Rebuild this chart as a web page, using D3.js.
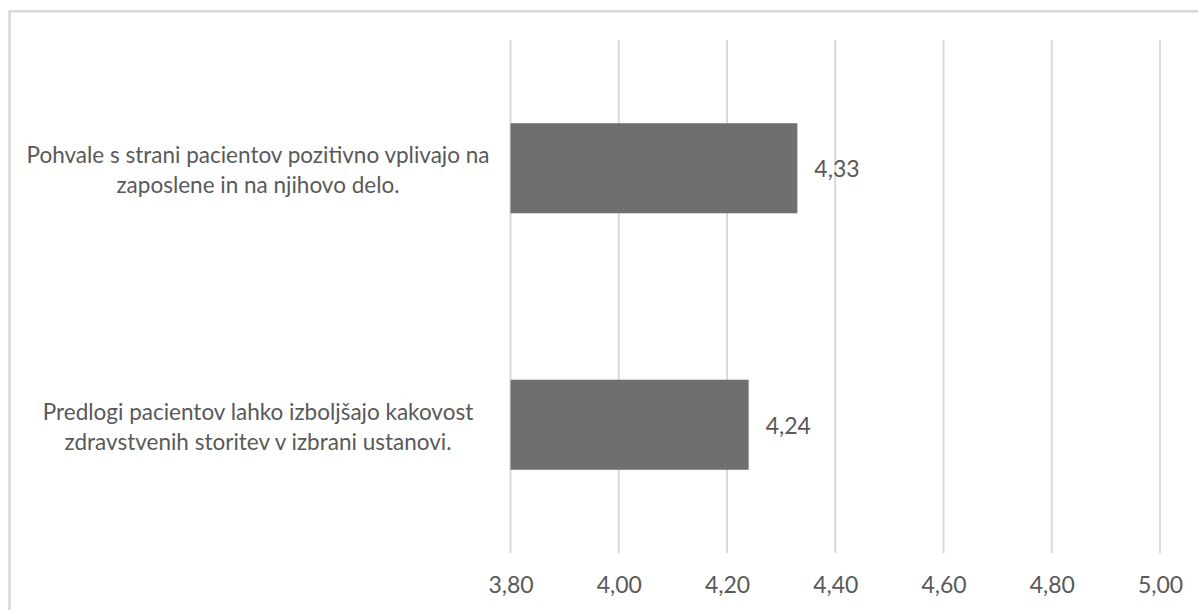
<!DOCTYPE html>
<html>
<head>
<meta charset="utf-8">
<script src="https://cdn.jsdelivr.net/npm/d3@7"></script>
<style>
  html, body { margin: 0; padding: 0; background: #fff; }
  svg { display: block; }
  text { font-family: Lato, "Open Sans", sans-serif; fill: #595959; }
</style>
</head>
<body>
<svg id="chart" width="1198" height="610"></svg>
<script>
// Category labels (each item is the list of lines drawn for that bar)
const categories = [
  ["Pohvale s strani pacientov pozitivno vplivajo na", "zaposlene in na njihovo delo."],
  ["Predlogi pacientov lahko izboljšajo kakovost", "zdravstvenih storitev v izbrani ustanovi."]
];
const values = [4.33, 4.24];
const tickValues = [3.8, 4.0, 4.2, 4.4, 4.6, 4.8, 5.0];

const fmt = v => d3.format(".2f")(v).replace(".", ",");

const svg = d3.select("#chart");

// Outer chart frame
svg.append("rect")
  .attr("x", 9.5).attr("y", 11.3)
  .attr("width", 1300).attr("height", 800)
  .attr("fill", "none")
  .attr("stroke", "#d9d9d9")
  .attr("stroke-width", 2.6);

const plotTop = 40, plotBottom = 553;

const x = d3.scaleLinear().domain([3.8, 5.0]).range([510.5, 1160]);
const y = d3.scaleBand()
  .domain(d3.range(categories.length))
  .range([plotTop, plotBottom])
  .paddingInner(0.649)
  .paddingOuter(0.3245);

// Vertical gridlines
svg.append("g")
  .selectAll("line")
  .data(tickValues)
  .join("line")
  .attr("x1", d => x(d)).attr("x2", d => x(d))
  .attr("y1", plotTop).attr("y2", plotBottom)
  .attr("stroke", "#d9d9d9")
  .attr("stroke-width", 2);

// Axis tick labels
const xAxis = d3.axisBottom(x)
  .tickValues(tickValues)
  .tickFormat(fmt)
  .tickSize(0)
  .tickPadding(0);

const axisG = svg.append("g")
  .attr("transform", `translate(0,${plotBottom})`)
  .call(xAxis);
axisG.select(".domain").remove();
axisG.selectAll("text")
  .attr("y", 40)
  .attr("dy", null)
  .attr("font-size", 23)
  .attr("font-family", "Lato, 'Open Sans', sans-serif")
  .attr("fill", "#595959");

// Bars
svg.append("g")
  .selectAll("rect")
  .data(values)
  .join("rect")
  .attr("x", x(3.8))
  .attr("y", (d, i) => y(i))
  .attr("width", d => x(d) - x(3.8))
  .attr("height", y.bandwidth())
  .attr("fill", "#6f6f6f");

// Value labels
svg.append("g")
  .selectAll("text")
  .data(values)
  .join("text")
  .attr("x", d => x(d) + 17)
  .attr("y", (d, i) => y(i) + y.bandwidth() / 2 + 9)
  .attr("font-size", 23)
  .text(d => fmt(d));

// Category labels, centred beside the bars
const catG = svg.append("g");
categories.forEach((lines, i) => {
  const cy = y(i) + y.bandwidth() / 2;
  const t = catG.append("text")
    .attr("text-anchor", "middle")
    .attr("font-size", 22.5);
  lines.forEach((line, j) => {
    t.append("tspan")
      .attr("x", 258)
      .attr("y", cy - 5 + j * 30)
      .text(line);
  });
});
</script>
</body>
</html>
